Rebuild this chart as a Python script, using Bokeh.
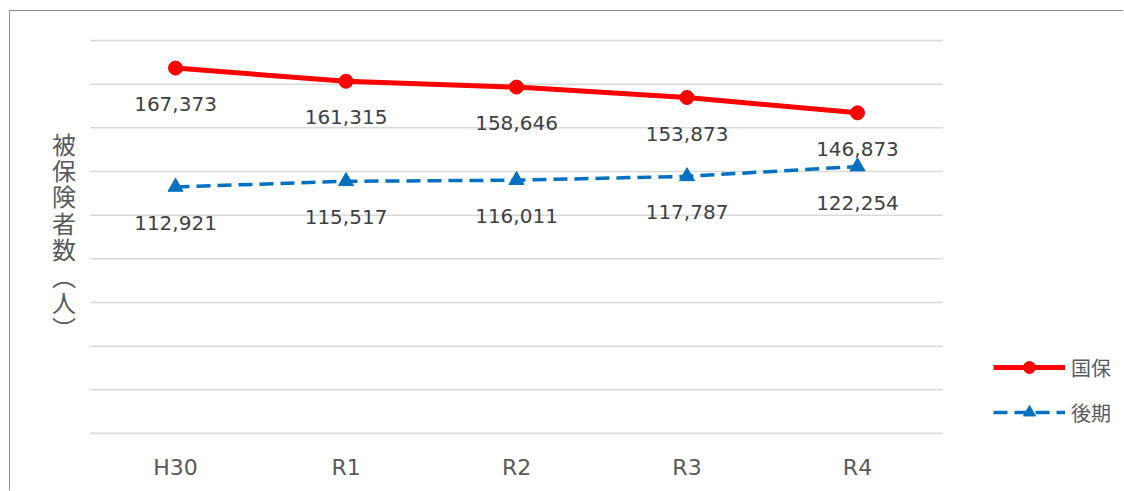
from bokeh.plotting import figure
from bokeh.models import (ColumnDataSource, Range1d, FixedTicker,
                          LabelSet, Label, Legend, LegendItem)
from bokeh.core.properties import value
from bokeh.embed import file_html
from bokeh.resources import INLINE

categories = ["H30", "R1", "R2", "R3", "R4"]
kokuho = [167373, 161315, 158646, 153873, 146873]
kouki = [112921, 115517, 116011, 117787, 122254]
grid_ticks = [0, 20000, 40000, 60000, 80000, 100000, 120000, 140000, 160000, 180000]
axis_title = "被\n保\n険\n者\n数\n︵\n人\n︶"
series_names = ["国保", "後期"]

idx = list(range(len(categories)))
src = ColumnDataSource(dict(
    x=idx, k1=kokuho, k2=kouki,
    l1=[f"{v:,}" for v in kokuho], l2=[f"{v:,}" for v in kouki],
))

p = figure(width=1114, height=480, output_backend="svg", toolbar_location=None,
           x_range=Range1d(-0.968, 5.566), y_range=Range1d(0, 193270),
           min_border_left=0, min_border_right=0, min_border_top=0, min_border_bottom=58)
p.styles = {"margin-left": "9px", "margin-top": "10px",
            "border-left": "1px solid #8c8c8c", "border-top": "1px solid #8c8c8c"}
p.outline_line_color = None
p.background_fill_color = "white"
p.border_fill_color = "white"

p.yaxis.visible = False
p.xgrid.visible = False
p.ygrid.visible = False

# horizontal gridlines spanning only the category area
n = len(grid_ticks)
p.segment(x0=[idx[0] - 0.5] * n, x1=[idx[-1] + 0.5] * n, y0=grid_ticks, y1=grid_ticks,
          line_color="#d9d9d9", line_width=1.5)

xa = p.xaxis[0]
xa.ticker = FixedTicker(ticks=idx)
xa.major_label_overrides = {i: c for i, c in zip(idx, categories)}
xa.bounds = (idx[0] - 0.5, idx[-1] + 0.5)
xa.axis_line_color = "#d9d9d9"
xa.axis_line_width = 1.5
xa.major_tick_line_color = None
xa.minor_tick_line_color = None
xa.major_label_text_font = "DejaVu Sans"
xa.major_label_text_font_size = "22px"
xa.major_label_text_color = "#595959"
xa.major_label_standoff = 15

red = "#ff0000"
blue = "#0070c0"
r1l = p.line("x", "k1", source=src, line_color=red, line_width=5)
r1m = p.scatter("x", "k1", source=src, marker="circle", size=14, color=red)
r2l = p.line("x", "k2", source=src, line_color=blue, line_width=3.5, line_dash="14 7")
r2m = p.scatter("x", "k2", source=src, marker="triangle", size=15, color=blue)

for col, ycol in (("l1", "k1"), ("l2", "k2")):
    p.add_layout(LabelSet(x="x", y=ycol, text=col, source=src, y_offset=-36,
                          text_align="center", text_baseline="middle",
                          text_font=value("DejaVu Sans"), text_font_size="20px",
                          text_color="#404040"))

p.add_layout(Label(x=53.5, y=308, x_units="screen", y_units="screen", text=axis_title,
                   text_align="center", text_baseline="top",
                   text_font="Noto Sans CJK JP", text_font_size="24px",
                   text_line_height=0.755, text_color="#595959"))

legend = Legend(items=[LegendItem(label=series_names[0], renderers=[r1l, r1m]),
                       LegendItem(label=series_names[1], renderers=[r2l, r2m])],
                location=(983, 6), orientation="vertical",
                glyph_width=72, glyph_height=30, label_height=30, spacing=15,
                label_standoff=6, padding=0, margin=0,
                border_line_color=None, background_fill_alpha=0,
                label_text_font="Noto Sans CJK JP", label_text_font_size="20px",
                label_text_color="#595959")
p.add_layout(legend, "center")

open("out.html", "w").write(file_html(p, INLINE))
